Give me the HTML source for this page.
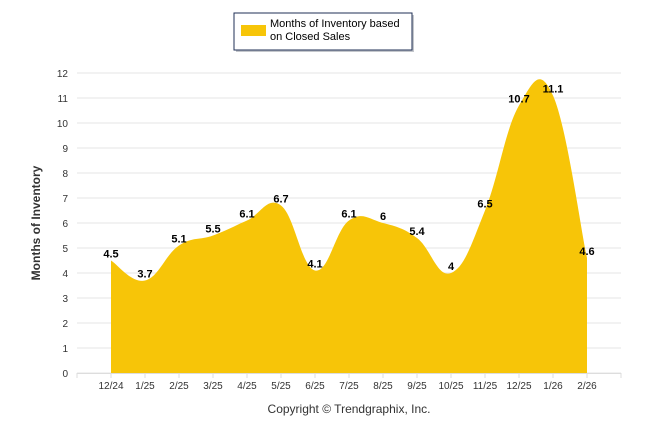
<!DOCTYPE html>
<html><head><meta charset="utf-8"><style>
body{margin:0;background:#fff;font-family:"Liberation Sans",sans-serif}
svg text{font-family:"Liberation Sans",sans-serif}
</style></head><body>
<svg id="c" width="646" height="434">
<g>
<rect x="236" y="15" width="178" height="37" fill="#8a8f99" opacity="0.5"/>
<rect x="234" y="13" width="178" height="37" fill="#fff" stroke="#1f2f55" stroke-width="1"/>
<rect x="241" y="25" width="25" height="11" fill="#f7c508"/>
<text x="270" y="27" font-size="11" fill="#000">Months of Inventory based</text>
<text x="270" y="40" font-size="11" fill="#000">on Closed Sales</text>
</g>
<g id="grid"></g>
<path id="area" fill="#f7c508"/>
<g id="labels"></g>
<g id="xaxis"></g>
<text x="40" y="223" font-size="12" font-weight="bold" fill="#333" transform="rotate(-90 40 223)" text-anchor="middle">Months of Inventory</text>
<text x="349" y="413" font-size="12" fill="#333" text-anchor="middle">Copyright © Trendgraphix, Inc.</text>
</svg>
<script>
const categories=["12/24","1/25","2/25","3/25","4/25","5/25","6/25","7/25","8/25","9/25","10/25","11/25","12/25","1/26","2/26"];
const values=[4.5,3.7,5.1,5.5,6.1,6.7,4.1,6.1,6,5.4,4,6.5,10.7,11.1,4.6];
const yTicks=[0,1,2,3,4,5,6,7,8,9,10,11,12];
const NS="http://www.w3.org/2000/svg";
const x0=77,x1=621,yBase=373,yTop=73;
const step=(x1-x0)/(categories.length+1);
const X=i=>x0+step*(i+1);
const Y=v=>yBase-(v/12)*(yBase-yTop);
function mk(t,a,p){const e=document.createElementNS(NS,t);for(const k in a)e.setAttribute(k,a[k]);p.appendChild(e);return e;}
const grid=document.getElementById('grid');
yTicks.forEach(t=>{
 const l=mk('line',{x1:x0,x2:x1,y1:Y(t),y2:Y(t),stroke:'#e6e6e6','stroke-width':1},grid);
 
 
 const tx=mk('text',{x:68,y:Y(t)+4,'font-size':10,fill:'#333','text-anchor':'end'},grid);
 tx.textContent=t;
 
 
});
const pts=values.map((v,i)=>[X(i),Y(v)]);
let d=`M${pts[0][0]},${yBase}L${pts[0][0]},${pts[0][1]}`;
for(let i=0;i<pts.length-1;i++){
 const p0=pts[i-1]||pts[i],p1=pts[i],p2=pts[i+1],p3=pts[i+2]||p2;
 const t=0.2;
 d+=`C${p1[0]+(p2[0]-p0[0])*t},${p1[1]+(p2[1]-p0[1])*t} ${p2[0]-(p3[0]-p1[0])*t},${p2[1]-(p3[1]-p1[1])*t} ${p2[0]},${p2[1]}`;
}
d+=`L${pts[pts.length-1][0]},${yBase}Z`;
document.getElementById('area').setAttribute('d',d);
const xa=document.getElementById('xaxis');
mk('line',{x1:x0,x2:x1,y1:yBase+0.5,y2:yBase+0.5,stroke:'#ddd'},xa);
for(let i=0;i<=categories.length+1;i++){
 const xx=x0+step*i;
 mk('line',{x1:xx,x2:xx,y1:yBase,y2:yBase+5,stroke:'#ddd'},xa);
}
categories.forEach((c,i)=>{
 const t=mk('text',{x:X(i),y:389,'font-size':10,fill:'#333','text-anchor':'middle'},xa);
 t.textContent=c;
 
 
});
const lb=document.getElementById('labels');
values.forEach((v,i)=>{
 const t=mk('text',{x:X(i),y:Y(v)-3,'font-size':11,'font-weight':'bold',fill:'#000','text-anchor':'middle'},lb);
 t.textContent=v;
 
 
});
</script>
</body></html>
